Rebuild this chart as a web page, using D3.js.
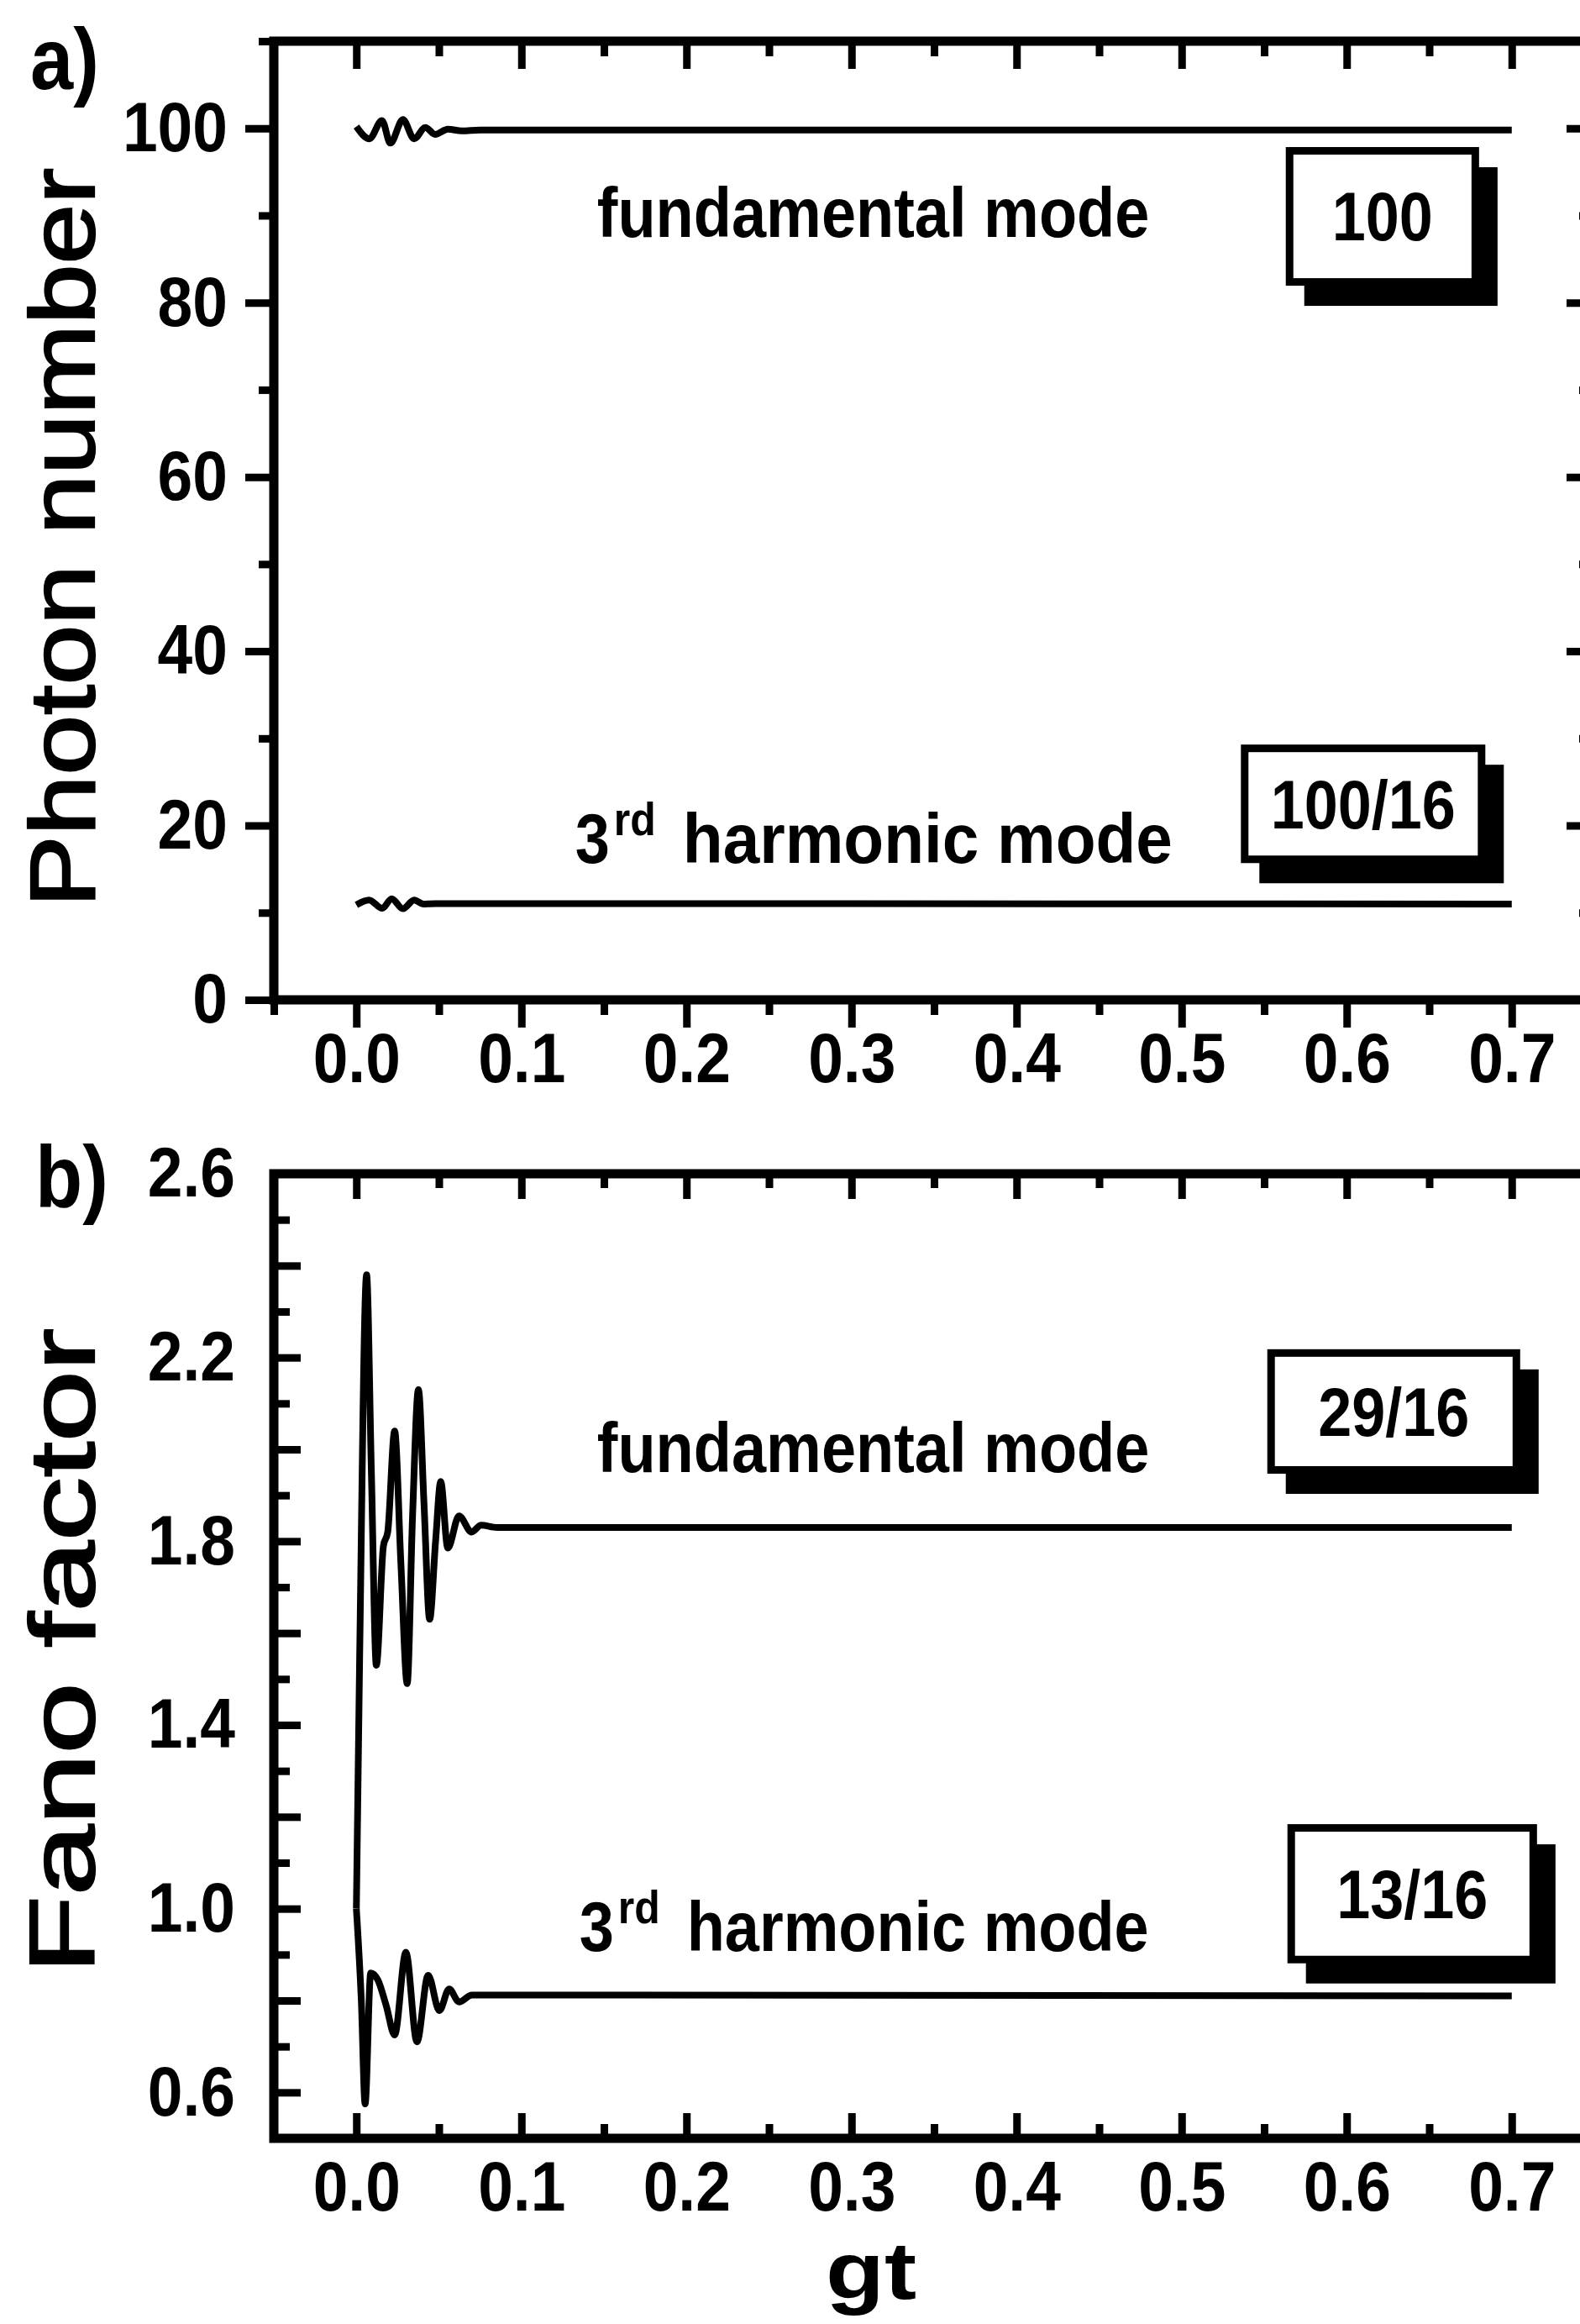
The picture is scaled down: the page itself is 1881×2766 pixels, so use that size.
<!DOCTYPE html>
<html>
<head>
<meta charset="utf-8">
<title>Photon number and Fano factor vs gt</title>
<script src="https://d3js.org/d3.v7.min.js"></script>
<style>
  body { margin: 0; background: #fff; }
  svg { display: block; }
</style>
</head>
<body>
<svg id="chart" width="1881" height="2766"></svg>
<script>
// ---- values ----
// panel a: photon number, [gt, n]
const fundamentalPhoton = [[0.0, 100.2], [0.0079, 98.8], [0.0155, 100.9], [0.0206, 98.3], [0.0282, 101.0],
  [0.035, 98.8], [0.0418, 100.1], [0.0477, 99.3], [0.0554, 99.9], [0.0639, 99.7], [0.075, 99.8], [0.7, 99.8]];
const harmonicPhoton = [[0.0, 10.9], [0.0077, 11.45], [0.0157, 10.5], [0.0214, 11.6], [0.0282, 10.45],
  [0.035, 11.45], [0.0407, 11.0], [0.048, 11.05], [0.7, 11.0]];

// panel b: Fano factor, [gt, F]
const fundamentalFano = [[0.0, 1.0], [0.002, 1.55], [0.0062, 2.38], [0.0091, 1.95], [0.0121, 1.53],
  [0.0164, 1.79], [0.019, 1.82], [0.0232, 2.04], [0.027, 1.75], [0.0308, 1.49], [0.034, 1.85],
  [0.0376, 2.13], [0.041, 1.88], [0.0444, 1.63], [0.048, 1.8], [0.0511, 1.93], [0.0554, 1.785],
  [0.0622, 1.855], [0.0698, 1.82], [0.0756, 1.835], [0.085, 1.83], [0.7, 1.83]];
const harmonicFano = [[0.0, 1.0], [0.003, 0.8], [0.0053, 0.575], [0.0087, 0.86], [0.013, 0.845],
  [0.018, 0.79], [0.0232, 0.725], [0.030, 0.905], [0.0367, 0.71], [0.0435, 0.855], [0.0503, 0.778],
  [0.0562, 0.825], [0.0622, 0.797], [0.07, 0.812], [0.7, 0.81]];

// ticks
const gtMajor = [0, 0.1, 0.2, 0.3, 0.4, 0.5, 0.6, 0.7];
const gtMinor = [-0.05, 0.05, 0.15, 0.25, 0.35, 0.45, 0.55, 0.65, 0.75];
const photonMajor = [0, 20, 40, 60, 80, 100];
const photonMinor = [10, 30, 50, 70, 90, 110];
const fanoMajor = [0.6, 0.8, 1.0, 1.2, 1.4, 1.6, 1.8, 2.0, 2.2, 2.4, 2.6];
const fanoMinor = [0.5, 0.7, 0.9, 1.1, 1.3, 1.5, 1.7, 1.9, 2.1, 2.3, 2.5];
const fanoLabelled = [0.6, 1.0, 1.4, 1.8, 2.2, 2.6];

// annotations
const photonBoxLabels = ["100", "100/16"];
const fanoBoxLabels = ["29/16", "13/16"];
const modeLabels = ["fundamental mode", "3rd harmonic mode"];
const panelTags = ["a)", "b)"];
const titles = { photon: "Photon number", fano: "Fano factor", gt: "gt" };

// ---- drawing ----
const svg = d3.select("#chart");
const FONT = "'Liberation Sans', Arial, Helvetica, sans-serif";
const SY = 1.12;   // the scanned lettering is a bit taller than Arial

const x = d3.scaleLinear().domain([-0.05, 0.75]).range([326, 1898]);
const yA = d3.scaleLinear().domain([0, 110]).range([1190, 49]);
const yB = d3.scaleLinear().domain([0.5, 2.6]).range([2545, 1397]);

svg.append("rect").attr("width", 1881).attr("height", 2766).attr("fill", "#fff");

function stretch(sel) {
  sel.each(function () {
    const t = d3.select(this);
    const tx = +t.attr("x") || 0, ty = +t.attr("y") || 0;
    t.attr("x", null).attr("y", null)
      .attr("transform", `translate(${tx},${ty}) scale(1,${SY})`);
  });
}

function addAxis(axis, transform) {
  const g = svg.append("g").attr("transform", transform).call(axis);
  g.select(".domain").remove();
  g.attr("font-family", null).attr("font-size", null);
  g.selectAll(".tick line").attr("stroke", "#000").attr("stroke-width", 9);
  g.selectAll(".tick text").filter(function () { return this.textContent === ""; }).remove();
  g.selectAll(".tick text")
    .attr("fill", "#000").attr("font-family", FONT)
    .attr("font-weight", "bold").attr("font-size", 75)
    .call(stretch);
  return g;
}

const f1 = d3.format(".1f");
const isLabelled = d => fanoLabelled.some(v => Math.abs(v - d) < 1e-9);

// panel a: ticks out on left/bottom, in on top/right
addAxis(d3.axisBottom(x).tickValues(gtMajor).tickSize(33).tickPadding(5).tickFormat(f1), `translate(0,${yA(0)})`);
addAxis(d3.axisBottom(x).tickValues(gtMinor).tickSize(18).tickFormat(""), `translate(0,${yA(0)})`);
addAxis(d3.axisTop(x).tickValues(gtMajor).tickSize(-33).tickFormat(""), `translate(0,${yA(110)})`);
addAxis(d3.axisTop(x).tickValues(gtMinor).tickSize(-18).tickFormat(""), `translate(0,${yA(110)})`);
addAxis(d3.axisLeft(yA).tickValues(photonMajor).tickSize(34).tickPadding(21).tickFormat(d3.format("d")), `translate(${x(-0.05)},0)`);
addAxis(d3.axisLeft(yA).tickValues(photonMinor).tickSize(18).tickFormat(""), `translate(${x(-0.05)},0)`);
addAxis(d3.axisRight(yA).tickValues(photonMajor).tickSize(-33).tickFormat(""), `translate(${x(0.75)},0)`);
addAxis(d3.axisRight(yA).tickValues(photonMinor).tickSize(-18).tickFormat(""), `translate(${x(0.75)},0)`);

// panel b: all ticks inside
addAxis(d3.axisBottom(x).tickValues(gtMajor).tickSize(-30).tickPadding(26).tickFormat(f1), `translate(0,${yB(0.5)})`);
addAxis(d3.axisBottom(x).tickValues(gtMinor).tickSize(-17).tickFormat(""), `translate(0,${yB(0.5)})`);
addAxis(d3.axisTop(x).tickValues(gtMajor).tickSize(-30).tickFormat(""), `translate(0,${yB(2.6)})`);
addAxis(d3.axisTop(x).tickValues(gtMinor).tickSize(-17).tickFormat(""), `translate(0,${yB(2.6)})`);
addAxis(d3.axisLeft(yB).tickValues(fanoMajor).tickSize(-32).tickPadding(46).tickFormat(d => isLabelled(d) ? f1(d) : ""), `translate(${x(-0.05)},0)`);
addAxis(d3.axisLeft(yB).tickValues(fanoMinor).tickSize(-19).tickFormat(""), `translate(${x(-0.05)},0)`);

// frames
[[yA, 0, 110], [yB, 0.5, 2.6]].forEach(([y, lo, hi]) => {
  svg.append("rect")
    .attr("x", x(-0.05)).attr("y", y(hi))
    .attr("width", x(0.75) - x(-0.05)).attr("height", y(lo) - y(hi))
    .attr("fill", "none").attr("stroke", "#000").attr("stroke-width", 11);
});

// curves
function curve(data, y) {
  svg.append("path")
    .datum(data)
    .attr("fill", "none").attr("stroke", "#000").attr("stroke-width", 8)
    .attr("stroke-linejoin", "round")
    .attr("d", d3.line().x(d => x(d[0])).y(d => y(d[1])).curve(d3.curveMonotoneX));
}
curve(fundamentalPhoton, yA);
curve(harmonicPhoton, yA);
curve(fundamentalFano, yB);
curve(harmonicFano, yB);

// text helper with vertical stretch
function label(px, py, str, size, anchor, rot) {
  return svg.append("text")
    .attr("transform", `translate(${px},${py})` + (rot ? ` rotate(${rot})` : "") + ` scale(1,${SY})`)
    .attr("font-family", FONT).attr("font-weight", "bold")
    .attr("font-size", size).attr("text-anchor", anchor || "start")
    .attr("fill", "#000")
    .text(str);
}

// "3rd harmonic mode": ordinal, raised suffix, then the rest fitted to width
function modeLabel(px, py, str, right) {
  const m = str.match(/^(\d+)(st|nd|rd|th) (.*)$/);
  if (!m) return label(px, py, str, 74);
  label(px, py, m[1], 74);
  label(px + 46, py - 33, m[2], 50);
  label(px + 128, py, m[3], 74).attr("textLength", right - px - 128).attr("lengthAdjust", "spacingAndGlyphs");
}

// value boxes with drop shadow; placement in data units [gt0, gt1, top, bottom]
function valueBox(y, place, str) {
  const x0 = x(place[0]), x1 = x(place[1]), y0 = y(place[2]), y1 = y(place[3]);
  const w = x1 - x0, h = y1 - y0;
  svg.append("rect").attr("x", x0 + 22).attr("y", y0 + 24).attr("width", w).attr("height", h).attr("fill", "#000");
  svg.append("rect").attr("x", x0 + 4.5).attr("y", y0 + 4.5).attr("width", w - 9).attr("height", h - 9)
    .attr("fill", "#fff").attr("stroke", "#000").attr("stroke-width", 9);
  label((x0 + x1) / 2, (y0 + y1) / 2 + 0.716 * 72 * SY / 2, str, 72, "middle");
}

valueBox(yA, [0.5631, 0.6802, 97.85, 81.94], photonBoxLabels[0]);
valueBox(yA, [0.5359, 0.6840, 29.29, 15.69], photonBoxLabels[1]);
valueBox(yB, [0.5519, 0.7051, 2.218, 1.947], fanoBoxLabels[0]);
valueBox(yB, [0.5641, 0.7153, 1.184, 0.881], fanoBoxLabels[1]);

modeLabel(x(0.1458), yA(87.5), modeLabels[0]);
modeLabel(x(0.1326), yA(15.7), modeLabels[1], x(0.4945));
modeLabel(x(0.1458), yB(1.951), modeLabels[0]);
modeLabel(x(0.1351), yB(0.908), modeLabels[1], x(0.4801));

// panel tags and axis titles (titles are a lighter face in the original)
label(36, 106, panelTags[0], 92);
label(42, 1436, panelTags[1], 92);
label(112, 640, titles.photon, 98, "middle", -90)
  .attr("font-weight", "normal").attr("stroke", "#000").attr("stroke-width", 2)
  .attr("textLength", 880).attr("lengthAdjust", "spacingAndGlyphs");
label(112, 1965, titles.fano, 98, "middle", -90)
  .attr("font-weight", "normal").attr("stroke", "#000").attr("stroke-width", 2)
  .attr("textLength", 768).attr("lengthAdjust", "spacingAndGlyphs");
label(1037, 2736, titles.gt, 86, "middle").attr("textLength", 108).attr("lengthAdjust", "spacingAndGlyphs");
</script>
</body>
</html>
